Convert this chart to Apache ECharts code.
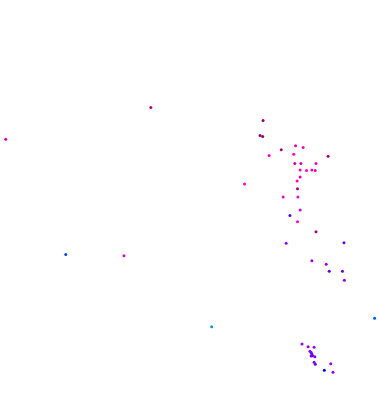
<!DOCTYPE html>
<html>
<head>
<meta charset="utf-8">
<script src="https://cdn.jsdelivr.net/npm/echarts@6/dist/echarts.min.js"></script>
<style>html,body{margin:0;padding:0;background:#fff}#c{width:378px;height:406px}</style>
</head>
<body>
<div id="c"></div>
<script>
var xValues = [69.6,68.8,69.5,78.2,80.2,74.4,71.2,77.7,86.8,78.0,79.6,83.6,79.4,81.1,82.5,83.4,79.4,78.6,64.7,78.7,74.9,78.8,79.4,76.7,78.7,83.6,75.7,91.0,82.5,86.3,87.1,90.6,91.1,79.9,81.5,83.1,82.0,82.3,82.5,82.3,82.7,83.3,83.1,83.4,87.5,85.8,88.1,39.9,1.5,17.4,32.8,56.0,99.1];
var yValues = [70.3,66.6,66.4,64.1,63.7,63.1,61.7,62.0,61.5,59.7,59.7,59.7,58.1,58.0,58.1,58.0,56.4,55.4,54.7,53.5,51.5,51.5,48.3,46.9,45.4,42.9,40.1,40.2,35.8,34.9,33.2,33.2,31.0,15.3,14.6,14.5,13.5,13.2,12.8,12.3,12.4,12.1,10.8,10.3,10.4,8.8,8.3,73.5,65.7,37.3,37.0,19.5,21.6];
var levels = [4,4,4,3.2,3,3.8,3,3,3.8,3.4,3.2,3,3,3,3,3.1,3.2,3,3,3.8,3,3,2.7,1.6,3,3.8,2.2,1.7,2.1,2,1.6,1.7,1.9,2,2,2,2,1.8,1.8,1.7,1.7,1.9,1.9,1.7,2,1.0,2,3.7,3.3,0.5,2.8,0,0.4];

var data = xValues.map(function(x,i){return [x, yValues[i], levels[i]];});
var chart = echarts.init(document.getElementById('c'));
chart.setOption({
  animation:false,
  backgroundColor:'#ffffff',
  grid:{left:0,right:0,top:0,bottom:0},
  xAxis:{type:'value',min:0,max:100,show:false},
  yAxis:{type:'value',min:0,max:100,show:false},
  visualMap:{show:false,min:0,max:4,dimension:2,inRange:{color:['#0099ee','#0000dd','#9900ff','#ff00cc','#990066']}},
  series:[{type:'scatter',symbolSize:3,itemStyle:{opacity:1},data:data}]
});
</script>
</body>
</html>
